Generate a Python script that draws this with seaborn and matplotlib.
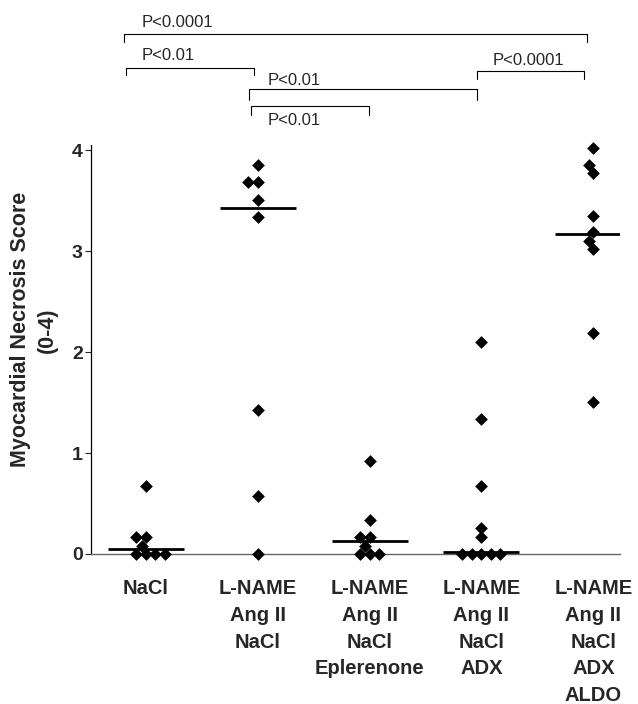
"""Myocardial necrosis score per treatment group, diamonds with median bars and P-value brackets."""
import matplotlib
matplotlib.use('Agg')
import matplotlib.pyplot as plt
import pandas as pd
import seaborn as sns

# ----------------------------------------------------------------------------------------------------------------------
# Data
# ----------------------------------------------------------------------------------------------------------------------
GROUPS = ['NaCl',
          'L-NAME\nAng II\nNaCl',
          'L-NAME\nAng II\nNaCl\nEplerenone',
          'L-NAME\nAng II\nNaCl\nADX',
          'L-NAME\nAng II\nNaCl\nADX\nALDO']
NACL = [0.67, 0.17, 0.17, 0.08, 0.0, 0.0, 0.0, 0.0]
LNAME = [3.85, 3.68, 3.68, 3.51, 3.34, 1.43, 0.57, 0.0]
EPLERENONE = [0.92, 0.34, 0.17, 0.17, 0.08, 0.0, 0.0, 0.0]
ADX = [2.10, 1.34, 0.67, 0.26, 0.17, 0.0, 0.0, 0.0, 0.0, 0.0]
ALDO = [4.02, 3.85, 3.77, 3.35, 3.19, 3.10, 3.02, 2.19, 1.51]
MEDIANS = [0.05, 3.43, 0.13, 0.02, 3.17]
Y_TICKS = [0, 1, 2, 3, 4]

# brackets: left x, right x, bar height, leg bottom, label, label x, label y
BRACKETS = [(-0.195, 3.94, 5.15, 5.07, 'P<0.0001', -0.034, 5.26),
            (-0.177, 0.968, 4.81, 4.74, 'P<0.01', -0.034, 4.94),
            (2.962, 3.92, 4.78, 4.70, 'P<0.0001', 3.096, 4.89),
            (0.923, 2.962, 4.60, 4.50, 'P<0.01', 1.092, 4.69),
            (0.941, 1.996, 4.44, 4.35, 'P<0.01', 1.092, 4.29)]

scores = [NACL, LNAME, EPLERENONE, ADX, ALDO]
df = pd.DataFrame({'group': [g for g, s in zip(GROUPS, scores) for _ in s],
                   'score': [v for s in scores for v in s]})

# ----------------------------------------------------------------------------------------------------------------------
# Plot
# ----------------------------------------------------------------------------------------------------------------------
sns.set_style('white')
plt.rcParams['font.family'] = ['Liberation Sans', 'DejaVu Sans']

fig = plt.figure(figsize=(6.38, 7.04), dpi=100)
ax = fig.add_axes([0.1426, 0.2131, 0.8294, 0.5809])

sns.swarmplot(x='group', y='score', data=df, order=GROUPS, marker='D', color='black',
              size=6.5, linewidth=0, ax=ax)
for coll in ax.collections:
    coll.set_clip_on(False)
ax.hlines(MEDIANS, [i - 0.34 for i in range(len(GROUPS))], [i + 0.34 for i in range(len(GROUPS))],
          colors='black', linewidth=2, zorder=3)

ax.set_xlim(-0.49, 4.24)
ax.set_ylim(0, 4.05)
ax.set_yticks(Y_TICKS)
ax.set_yticklabels([str(t) for t in Y_TICKS], fontsize=14, fontweight='bold')
ax.set_xticks(range(len(GROUPS)))
ax.set_xticklabels(GROUPS, fontsize=14.5, fontweight='bold', linespacing=1.52, va='top')
ax.tick_params(axis='x', length=0, pad=18)
ax.tick_params(axis='y', length=4, width=0.8, direction='out', left=True, pad=2)
ax.set_xlabel('')
ax.set_ylabel('Myocardial Necrosis Score\n(0-4)', fontsize=15.5, fontweight='bold', linespacing=1.4)
ax.yaxis.set_label_coords(-0.062, 0.548)

sns.despine(ax=ax)
ax.spines['left'].set_bounds(0, 4.05)
ax.spines['left'].set_color('black')
ax.spines['left'].set_linewidth(0.9)
ax.spines['bottom'].set_color('#666666')
ax.spines['bottom'].set_linewidth(1.0)

for x1, x2, y, y0, label, lx, ly in BRACKETS:
    ax.plot([x1, x1, x2, x2], [y0, y, y, y0], color='black', linewidth=0.8, clip_on=False)
    ax.text(lx, ly, label, fontsize=12, ha='left', va='center', clip_on=False)

fig.savefig('out.png', dpi=100)
